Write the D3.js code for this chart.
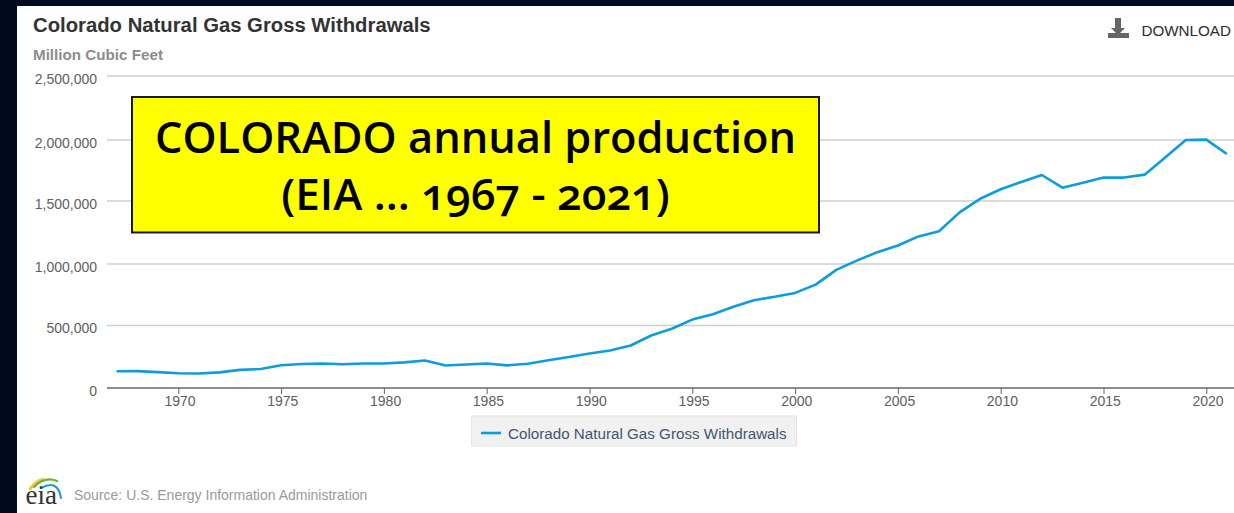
<!DOCTYPE html>
<html><head><meta charset="utf-8">
<script src="https://cdnjs.cloudflare.com/ajax/libs/d3/7.8.5/d3.min.js"></script>
<style>html,body{margin:0;padding:0;background:#000c1e;overflow:hidden}svg{display:block}text{font-family:"Liberation Sans",Arial,sans-serif}</style>
</head><body><svg id="c" width="1234" height="513"></svg>
<script>
const years=[1967,1968,1969,1970,1971,1972,1973,1974,1975,1976,1977,1978,1979,1980,1981,1982,1983,1984,1985,1986,1987,1988,1989,1990,1991,1992,1993,1994,1995,1996,1997,1998,1999,2000,2001,2002,2003,2004,2005,2006,2007,2008,2009,2010,2011,2012,2013,2014,2015,2016,2017,2018,2019,2020,2021];
const withdrawals=[134000,135000,127000,118000,116000,125000,145000,152000,182000,192000,196000,190000,196000,196000,205000,220000,180000,188000,196000,181000,194000,222000,248000,276000,300000,340000,420000,474000,548000,592000,652000,706000,733000,765000,832000,952000,1027000,1094000,1147000,1219000,1260000,1410000,1518000,1596000,1655000,1713000,1609000,1649000,1692000,1692000,1716000,1857000,2000000,2003000,1885000];
const yTicks=[0,500000,1000000,1500000,2000000,2500000];
const yTickRows=[388,325.5,264,201,140,76];
const xTicks=[1970,1975,1980,1985,1990,1995,2000,2005,2010,2015,2020];
const chartTitle="Colorado Natural Gas Gross Withdrawals";
const unitLabel="Million Cubic Feet";
const sourceLabel="Source: U.S. Energy Information Administration";
const calloutLines=["COLORADO annual production","(EIA ... 1967 - 2021)"];

const svg=d3.select("#c");
const x=d3.scaleLinear().domain([1970,2020]).range([178.3,1206.3]);
const y=d3.scaleLinear().domain(yTicks).range(yTickRows);
const left=107,right=1234;

svg.append("rect").attr("x",17).attr("y",6).attr("width",1217).attr("height",507).attr("fill","#fff");

svg.append("text").attr("x",33).attr("y",32).attr("font-size",20.3).attr("font-weight",700).attr("fill","#333").text(chartTitle);
svg.append("text").attr("x",33).attr("y",60).attr("font-size",15.2).attr("font-weight",700).attr("fill","#8c8c8c").text(unitLabel);

// gridlines and y labels
svg.append("g").selectAll("line").data(yTicks.slice(1)).join("line")
  .attr("x1",left).attr("x2",right).attr("y1",d=>y(d)).attr("y2",d=>y(d))
  .attr("stroke","#cfcfcf").attr("stroke-width",1.5);
svg.append("g").selectAll("text").data(yTicks).join("text")
  .attr("x",97).attr("y",d=>y(d)+7.5).attr("text-anchor","end").attr("font-size",14).attr("fill","#606060")
  .text(d=>d3.format(",")(d));

// x axis
const ax=d3.axisBottom(x).tickValues(xTicks).tickFormat(d3.format("d")).tickSize(6).tickSizeOuter(0);
const gx=svg.append("g").attr("transform","translate(0,388)").call(ax);
gx.select(".domain").remove();
gx.insert("line",":first-child").attr("x1",left).attr("x2",right).attr("stroke","#666").attr("stroke-width",1.3);
gx.selectAll(".tick line").attr("stroke","#666").attr("stroke-width",1);
gx.selectAll(".tick text").attr("x",1.2).attr("y",8).attr("dy","0.71em").attr("font-size",14).attr("fill","#606060").attr("font-family","Liberation Sans");

// series
const line=d3.line().x((d,i)=>x(years[i])).y(d=>y(d));
svg.append("path").attr("d",line(withdrawals)).attr("fill","none").attr("stroke","#0f9cdd").attr("stroke-width",2.6).attr("stroke-linejoin","round");

// legend
svg.append("rect").attr("x",471.5).attr("y",416).attr("width",325).attr("height",30).attr("fill","#f1f1f1").attr("stroke","#e4e4e4");
svg.append("line").attr("x1",481).attr("x2",501).attr("y1",433).attr("y2",433).attr("stroke","#0f9cdd").attr("stroke-width",2.6);
svg.append("text").attr("x",508).attr("y",439).attr("font-size",15.2).attr("fill","#41566e").text(chartTitle);

// download
const dl=svg.append("g").attr("fill","#666");
dl.append("path").attr("d","M1115 18h6v10h4l-7 7-7-7h4z");
dl.append("rect").attr("x",1108).attr("y",33).attr("width",21).attr("height",5);
svg.append("text").attr("x",1141.5).attr("y",36).attr("font-size",15.2).attr("fill","#2b2b2b").text("DOWNLOAD");

// source + logo
svg.append("text").attr("x",74).attr("y",500).attr("font-size",14).attr("fill","#9a9a9a").text(sourceLabel);
const logo=svg.append("g").attr("fill","none").attr("stroke-linecap","round");
logo.append("path").attr("d","M30 489Q35 481 43 479").attr("stroke","#f2c230").attr("stroke-width",2.6);
logo.append("path").attr("d","M34 487Q45 476 57 481").attr("stroke","#6cae45").attr("stroke-width",2.2);
logo.append("path").attr("d","M41 488Q58 479 61 498").attr("stroke","#1f9ad6").attr("stroke-width",2);
svg.append("text").attr("x",25.5).attr("y",504).attr("font-size",27).attr("fill","#333").style("font-family","'Liberation Serif',serif").text("eia");

// callout
svg.append("rect").attr("x",132).attr("y",97).attr("width",687).attr("height",135.5).attr("fill","#ffff00").attr("stroke","#1a1a1a").attr("stroke-width",2);
svg.append("g").selectAll("text").data(calloutLines).join("text")
  .attr("x",475.5).attr("y",(d,i)=>i?210:153).attr("text-anchor","middle")
  .attr("font-size",(d,i)=>i?44:43.4).attr("font-weight",600).attr("fill","#000")
  .style("font-family","'Open Sans','Noto Sans',sans-serif").style("font-feature-settings","'onum'")
  .text(d=>d);
</script></body></html>
